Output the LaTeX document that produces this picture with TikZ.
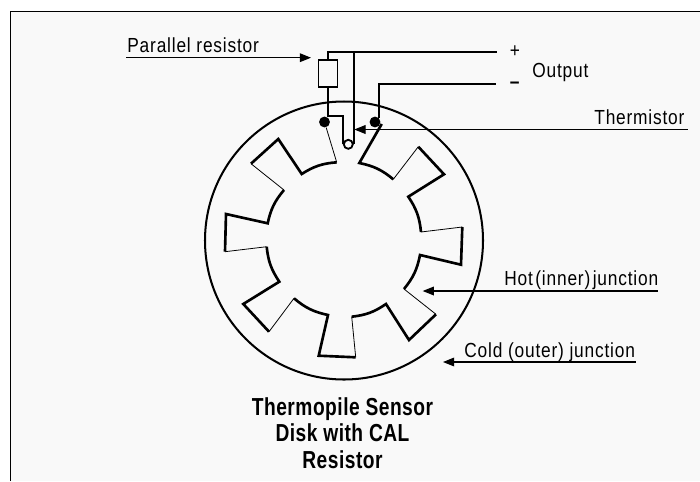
\documentclass[tikz,border=0pt]{standalone}
\usepackage{fontspec}
\setmainfont{Liberation Sans}[FakeStretch=0.85,LetterSpace=4]
\newfontfamily\titlefont{Liberation Sans}[FakeStretch=0.78,LetterSpace=2]
\definecolor{paper}{HTML}{F9F9F9}
\tikzset{
  wire/.style={line width=1.05pt},
  thickw/.style={line width=1.5pt},
  thinw/.style={line width=.45pt},
  leader/.style={line width=.6pt,-{Triangle[length=6.4pt,width=5pt]}},
  lbl/.style={anchor=base west,inner sep=0pt,font=\fontsize{11.6}{12}\selectfont},
  junction/.style={circle,fill,inner sep=0pt,minimum size=6.2pt},
}
\usetikzlibrary{arrows.meta}
\begin{document}
\begin{tikzpicture}[x=.02cm,y=-.02cm]
\useasboundingbox (0,0) rectangle (700,481);
\fill[white] (0,0) rectangle (700,481);
\fill[paper] (10.7,11.5) rectangle (700,481);
\draw[line width=.7pt] (10.7,481) -- (10.7,11.5) -- (700,11.5);
% disk
\node[circle,draw,line width=1.15pt,minimum size=2.78*.02cm*100,inner sep=0pt] (disk) at (344,240.5){};
% wires
\node[draw,wire,minimum width=19*.02cm,minimum height=27*.02cm,inner sep=0pt] (res) at (328,73.5){};
\node[junction] (dotl) at (324.5,122){};
\node[junction] (dotr) at (375,122){};
\node[circle,draw,wire,fill=paper,minimum size=9*.02cm,inner sep=0pt] (therm) at (348.3,144.3){};
\coordinate (plus) at (497,52);
\coordinate (minus) at (496,84);
\draw[wire] (res.north) -- (res.north |- plus) -- (plus);
\draw[wire] (therm.east |- plus) -- (therm.east);
\draw[wire] (res.south) -- (328,115.7) -- (therm.west |- 0,115.7) -- (therm.west);
\draw[wire] (dotr.north east) -- (dotr.north east |- minus) -- (minus);
% gear
\draw[thinw] (dotl) -- (336.7,162.3);
\draw[thickw] (336.7,162.3) to[bend right=14] (301.7,174) -- (278.3,139) -- (251,163.7);
\draw[thinw] (251,163.7) -- (284,190);
\draw[thickw] (284,190) to[bend right=14] (267.7,223.3) -- (226,214) -- (225,251.7);
\draw[thinw] (225,251.7) -- (266.7,246.7);
\draw[thickw] (266.7,246.7) to[bend right=14] (279.3,281.7) -- (243.3,304) -- (269,331.7);
\draw[thinw] (269,331.7) -- (294,298.3);
\draw[thickw] (294,298.3) to[bend right=14] (328,315) -- (318.7,355.7) -- (355.7,357.3);
\draw[thinw] (355.7,357.3) -- (351.7,316.7);
\draw[thickw] (351.7,316.7) to[bend right=14] (386,304) -- (409,340) -- (436,314.3);
\draw[thinw] (436,314.3) -- (404,289);
\draw[thickw] (404,289) to[bend right=14] (420,255) -- (461,264.7) -- (462.3,227);
\draw[thinw] (462.3,227) -- (421,232);
\draw[thickw] (421,232) to[bend right=14] (408.3,196.7) -- (444,174.3) -- (418.3,146.7);
\draw[thinw] (418.3,146.7) -- (393.3,179.3);
\draw[thickw] (393.3,179.3) to[bend right=14] (359.3,163) -- (381.7,124);
% labels
\node[lbl] (lres) at (127,52) {Parallel resistor};
\node[lbl] (lout) at (532,77.7) {Output};
\node[lbl] (lthm) at (594,124) {Thermistor};
\node[lbl] (lhot) at (504,285) {\spaceskip=1.4pt Hot (inner) junction};
\node[lbl] (lcold) at (464,357.7) {Cold (outer) junction};
\node[lbl,anchor=center] (lplus) at (515,52) {+};
\node[lbl,anchor=center] (lminus) at (515,85.5) {\textbf{–}};
\coordinate (tres) at (311,57.7);
\coordinate (tthm) at (354.3,129.5);
\coordinate (thot) at (422.7,291);
\coordinate (tcold) at (443,362);
\draw[leader] (126,57.7) -- (tres);
\draw[leader] (687.7,129.5) -- (tthm);
\draw[leader] (657.7,291) -- (thot);
\draw[leader] (635.5,362) -- (tcold);
% title
\node[inner sep=0pt,align=center,font=\fontsize{14}{15.2}\selectfont\titlefont\bfseries] (title) at (342.5,433) {Thermopile Sensor\\Disk with CAL\\Resistor};
\end{tikzpicture}
\end{document}
